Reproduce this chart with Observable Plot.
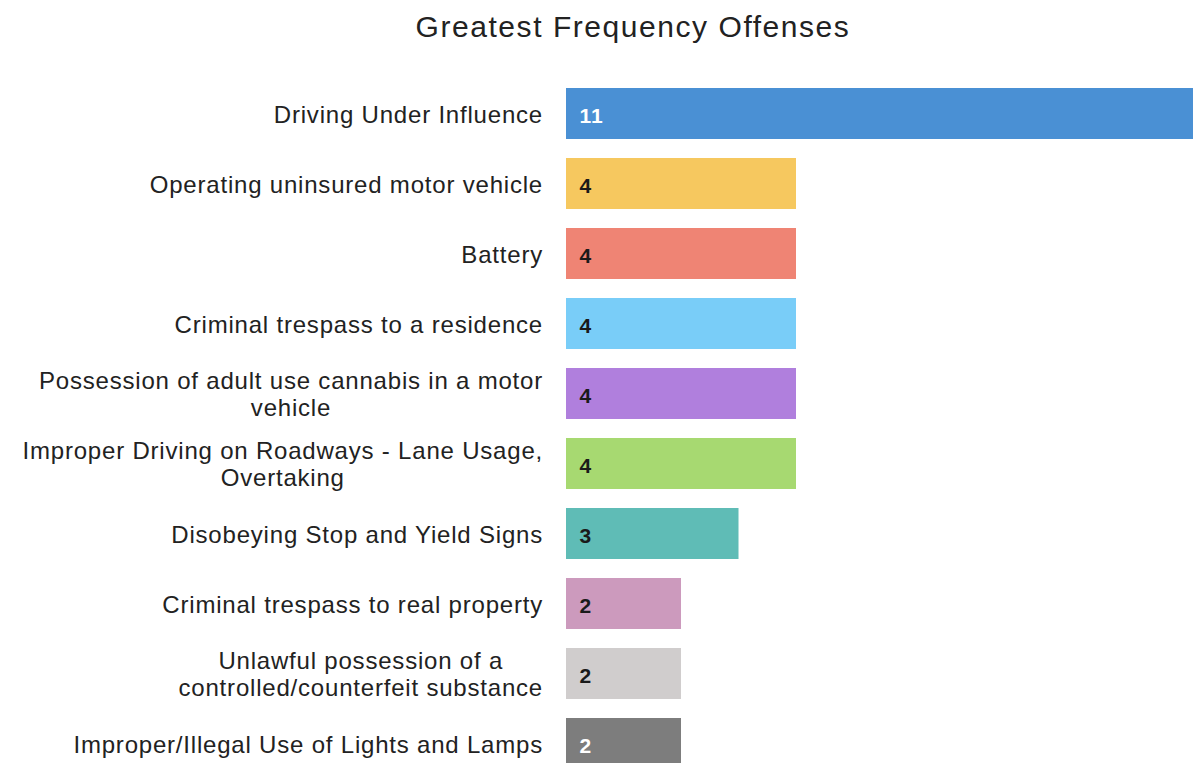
<!DOCTYPE html>
<html>
<head>
<meta charset="utf-8">
<script src="https://cdn.jsdelivr.net/npm/d3@7"></script>
<script src="https://cdn.jsdelivr.net/npm/@observablehq/plot@0.6"></script>
<style>
  html, body { margin: 0; padding: 0; background: #fff; overflow: hidden; width: 1193px; height: 763px; }
  #title { position: absolute; top: 12px; left: 633px; transform: translateX(-50%); white-space: nowrap;
    font-family: Arial, "Liberation Sans", sans-serif; font-size: 30px; line-height: 30px; letter-spacing: 1.55px; color: #222; }
  #chart { position: absolute; top: 60px; left: 0; }
</style>
</head>
<body>
<div id="title">Greatest Frequency Offenses</div>
<div id="chart"></div>
<script>
const categories = [
  "Driving Under Influence",
  "Operating uninsured motor vehicle",
  "Battery",
  "Criminal trespass to a residence",
  "Possession of adult use cannabis in a motor\nvehicle",
  "Improper Driving on Roadways - Lane Usage,\nOvertaking",
  "Disobeying Stop and Yield Signs",
  "Criminal trespass to real property",
  "Unlawful possession of a\ncontrolled/counterfeit substance",
  "Improper/Illegal Use of Lights and Lamps"
];
const counts = [11, 4, 4, 4, 4, 4, 3, 2, 2, 2];
const barColors = ["#4a90d4", "#f6c85f", "#ef8474", "#79cdf8", "#b07fdd", "#a7d971", "#5fbcb6", "#cc9abd", "#d0cdcd", "#7d7d7d"];
const valueColors = ["#ffffff", "#1a1a1a", "#1a1a1a", "#1a1a1a", "#1a1a1a", "#1a1a1a", "#1a1a1a", "#1a1a1a", "#1a1a1a", "#ffffff"];

const data = categories.map((c, i) => ({name: c, value: counts[i], color: barColors[i], vcolor: valueColors[i]}));

const plot = Plot.plot({
  width: 1193,
  height: 703,
  marginLeft: 566,
  marginRight: 0,
  marginTop: 0,
  marginBottom: 0,
  style: {fontFamily: 'Arial, "Liberation Sans", sans-serif', background: "transparent"},
  x: {domain: [0, 11], range: [566, 1198.5], axis: null},
  y: {domain: categories, range: [18.5, 718.5], paddingInner: 0.27, paddingOuter: 0.135, axis: null},
  color: {type: "identity"},
  marks: [
    Plot.barX(data, {x: "value", y: "name", fill: "color"}),
    Plot.text(data, {x: 0, y: "name", text: d => String(d.value), fill: "vcolor", dx: 13, dy: 2,
      textAnchor: "start", fontSize: 21, fontWeight: "bold"}),
    Plot.text(data, {y: "name", text: "name", frameAnchor: "left", dx: -23, textAnchor: "middle",
      fontSize: 24, lineHeight: 1.12, fill: "#222"})
  ]
});
document.getElementById("chart").appendChild(plot);

const textGroups = d3.select(plot).selectAll('g[aria-label="text"]').nodes();
const valueGroup = textGroups[0];
const labelGroup = textGroups[1];
d3.select(valueGroup).attr("letter-spacing", "1px");
d3.select(labelGroup).attr("letter-spacing", "0.8px");

// right-align each (centered) label block so its right edge sits next to the bars
const svgRect = plot.getBoundingClientRect();
d3.select(labelGroup).selectAll("text").each(function() {
  const r = this.getBoundingClientRect();
  const right = r.right - svgRect.left;
  const shift = 543 - right;
  const t = this.getAttribute("transform") || "";
  this.setAttribute("transform", t + ` translate(${shift},0)`);
});
</script>
</body>
</html>
